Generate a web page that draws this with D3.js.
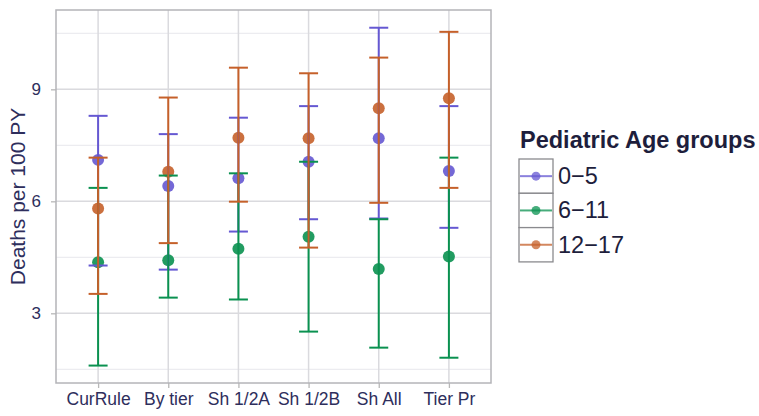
<!DOCTYPE html>
<html>
<head>
<meta charset="utf-8">
<script src="https://cdn.jsdelivr.net/npm/d3@7"></script>
<style>
  body { margin: 0; background: #fff; }
  text { font-family: "Liberation Sans", Arial, sans-serif; }
</style>
</head>
<body>
<div id="chart"></div>
<script>
// data
var categories = ["CurRule", "By tier", "Sh 1/2A", "Sh 1/2B", "Sh All", "Tier Pr"];
var groups = ["0\u22125", "6\u221211", "12\u221217"];
var yTicks = [3, 6, 9];

var est0_5   = [7.11, 6.41, 6.62, 7.06, 7.69, 6.81];
var lo0_5    = [4.28, 4.17, 5.19, 5.52, 5.54, 5.29];
var hi0_5    = [8.29, 7.80, 8.24, 8.55, 10.65, 8.55];

var est6_11  = [4.37, 4.42, 4.73, 5.05, 4.19, 4.52];
var lo6_11   = [1.60, 3.42, 3.37, 2.51, 2.08, 1.81];
var hi6_11   = [6.36, 6.69, 6.75, 7.06, 5.52, 7.17];

var est12_17 = [5.81, 6.79, 7.70, 7.69, 8.49, 8.76];
var lo12_17  = [3.52, 4.88, 5.99, 4.76, 5.96, 6.36];
var hi12_17  = [7.17, 8.78, 9.58, 9.43, 9.85, 10.54];

var colors = ["#6558d2", "#0a9150", "#c5602a"];

var series = [
  {name: groups[0], est: est0_5, lo: lo0_5, hi: hi0_5},
  {name: groups[1], est: est6_11, lo: lo6_11, hi: hi6_11},
  {name: groups[2], est: est12_17, lo: lo12_17, hi: hi12_17}
];

var W = 759, H = 416;
var panel = {left: 56, top: 10, right: 491, bottom: 383};

var svg = d3.select("#chart").append("svg")
  .attr("width", W).attr("height", H);

// scales
var x = d3.scalePoint()
  .domain(categories)
  .range([panel.left, panel.right])
  .padding(0.6);

var y = d3.scaleLinear()
  .domain([1.133, 11.125])
  .range([panel.bottom, panel.top]);

// minor + major grid
var minor = [1.5, 4.5, 7.5, 10.5];
svg.selectAll(".minor")
  .data(minor).enter().append("line")
  .attr("x1", panel.left).attr("x2", panel.right)
  .attr("y1", function(d) { return y(d); })
  .attr("y2", function(d) { return y(d); })
  .attr("stroke", "#ececf0").attr("stroke-width", 1.2);

svg.selectAll(".major")
  .data(yTicks).enter().append("line")
  .attr("x1", panel.left).attr("x2", panel.right)
  .attr("y1", function(d) { return y(d); })
  .attr("y2", function(d) { return y(d); })
  .attr("stroke", "#dadade").attr("stroke-width", 1.5);

svg.selectAll(".vgrid")
  .data(categories).enter().append("line")
  .attr("x1", function(d) { return x(d); })
  .attr("x2", function(d) { return x(d); })
  .attr("y1", panel.top).attr("y2", panel.bottom)
  .attr("stroke", "#dadade").attr("stroke-width", 1.5);

// axes
var yAxis = svg.append("g")
  .attr("transform", "translate(" + panel.left + ",0)")
  .call(d3.axisLeft(y).tickValues(yTicks).tickSize(5).tickPadding(10).tickFormat(d3.format("d")));
yAxis.select(".domain").remove();
yAxis.selectAll("line").attr("stroke", "#b8b8b8").attr("stroke-width", 1.3);
yAxis.selectAll("text").attr("font-size", 17).attr("fill", "#2e2e5c")
  .attr("font-family", "Liberation Sans, Arial, sans-serif");

var xAxis = svg.append("g")
  .attr("transform", "translate(0," + panel.bottom + ")")
  .call(d3.axisBottom(x).tickSize(5).tickPadding(5));
xAxis.select(".domain").remove();
xAxis.selectAll("line").attr("stroke", "#b8b8b8").attr("stroke-width", 1.3);
xAxis.selectAll("text").attr("font-size", 17.5).attr("fill", "#2e2e5c")
  .attr("font-family", "Liberation Sans, Arial, sans-serif");

// panel border
svg.append("rect")
  .attr("x", panel.left).attr("y", panel.top)
  .attr("width", panel.right - panel.left).attr("height", panel.bottom - panel.top)
  .attr("fill", "none").attr("stroke", "#b4b4b8").attr("stroke-width", 1.5);

// y axis title
svg.append("text")
  .attr("transform", "translate(25," + ((panel.top + panel.bottom) / 2) + ") rotate(-90)")
  .attr("text-anchor", "middle")
  .attr("font-size", 21)
  .attr("fill", "#2e2e5c")
  .text("Deaths per 100 PY");

// points first, error bars on top
var capHalf = 9.5;
series.forEach(function(s, i) {
  svg.selectAll(".pt" + i)
    .data(categories).enter().append("circle")
    .attr("cx", function(d) { return x(d); })
    .attr("cy", function(d, j) { return y(s.est[j]); })
    .attr("r", 6)
    .attr("fill", colors[i])
    .attr("opacity", 0.9);
});

series.forEach(function(s, i) {
  var g = svg.append("g").attr("stroke", colors[i]).attr("stroke-width", 2);
  categories.forEach(function(c, j) {
    var cx = x(c);
    g.append("line").attr("x1", cx).attr("x2", cx)
      .attr("y1", y(s.lo[j])).attr("y2", y(s.hi[j]));
    g.append("line").attr("x1", cx - capHalf).attr("x2", cx + capHalf)
      .attr("y1", y(s.lo[j])).attr("y2", y(s.lo[j]));
    g.append("line").attr("x1", cx - capHalf).attr("x2", cx + capHalf)
      .attr("y1", y(s.hi[j])).attr("y2", y(s.hi[j]));
  });
});

// legend
var lg = svg.append("g").attr("transform", "translate(519,0)");
lg.append("text")
  .attr("x", 1).attr("y", 148)
  .attr("font-size", 23.5).attr("font-weight", "bold")
  .attr("fill", "#1e1e3c")
  .text("Pediatric Age groups");

var keyH = 34.3, keyW = 34, keyTop = 159;
groups.forEach(function(gname, i) {
  var ky = keyTop + i * keyH;
  lg.append("rect")
    .attr("x", 0).attr("y", ky).attr("width", keyW).attr("height", keyH)
    .attr("fill", "#fff").attr("stroke", "#8a8a8e").attr("stroke-width", 1.3);
  lg.append("line")
    .attr("x1", 1).attr("x2", keyW - 1)
    .attr("y1", ky + keyH / 2).attr("y2", ky + keyH / 2)
    .attr("stroke", colors[i]).attr("stroke-width", 2).attr("opacity", 0.75);
  lg.append("circle")
    .attr("cx", keyW / 2).attr("cy", ky + keyH / 2).attr("r", 4.5)
    .attr("fill", colors[i]).attr("opacity", 0.75);
  lg.append("text")
    .attr("x", 39).attr("y", ky + keyH / 2 + 8)
    .attr("font-size", 23.5)
    .attr("fill", "#1e1e3c")
    .text(gname);
});
</script>
</body>
</html>
